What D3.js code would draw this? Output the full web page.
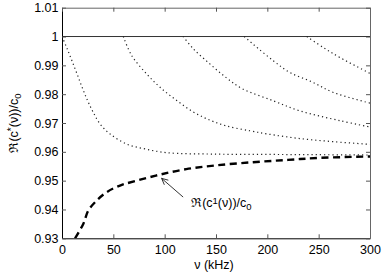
<!DOCTYPE html>
<html>
<head>
<meta charset="utf-8">
<script src="https://cdn.jsdelivr.net/npm/d3@7"></script>
<style>
  html, body { margin: 0; padding: 0; background: #fff; }
  svg { display: block; font-family: "Liberation Sans", Arial, sans-serif; }
</style>
</head>
<body>
<svg id="chart" width="382" height="273"></svg>
<script>
// values: [frequency kHz, Re(c)/c0]
const mode1 = [[0, 1], [5, 0.9958], [10, 0.9913], [15, 0.9867], [20, 0.982], [25, 0.9777],
  [30, 0.974], [37, 0.9697], [46.8, 0.9662], [63, 0.9627], [80.8, 0.961], [102, 0.9597],
  [150, 0.9592], [200, 0.9591], [250, 0.959], [300, 0.9589]];
const mode2 = [[59.7, 1], [67.9, 0.9934], [82.5, 0.987], [95.5, 0.9824], [111.7, 0.9778],
  [128, 0.9738], [144, 0.971], [160, 0.969], [183, 0.9673], [200, 0.9662], [231.8, 0.9646],
  [265, 0.9635], [300, 0.9626]];
const mode3 = [[118, 1], [128, 0.9957], [144, 0.9905], [160.4, 0.9856], [175, 0.982],
  [205.8, 0.9777], [231.8, 0.9742], [270.8, 0.9708], [300, 0.9686]];
const mode4 = [[177.5, 1], [186.3, 0.9973], [205.8, 0.9916], [222, 0.9875], [243.2, 0.9843],
  [264.3, 0.9806], [300, 0.9769]];
const mode5 = [[238.5, 1], [254.5, 0.9962], [270.8, 0.9927], [300, 0.9872]];
const modes = [mode1, mode2, mode3, mode4, mode5];

const firstMode = [[12.7, 0.93], [20.7, 0.935], [25.6, 0.9396], [33.8, 0.9431], [43.5, 0.946],
  [56.5, 0.9483], [72.8, 0.95], [95.5, 0.9521], [121, 0.954], [150, 0.9553], [186, 0.9564],
  [220, 0.9572], [251, 0.9579], [300, 0.9584]];

const xTicks = [0, 50, 100, 150, 200, 250, 300];
const yTicks = [0.93, 0.94, 0.95, 0.96, 0.97, 0.98, 0.99, 1, 1.01];
const yTickLabels = ["0.93", "0.94", "0.95", "0.96", "0.97", "0.98", "0.99", "1", "1.01"];

const svg = d3.select("#chart");
const pLeft = 62, pRight = 370, pTop = 7.7, pBottom = 238.3;

const x = d3.scaleLinear().domain([0, 300]).range([pLeft, pRight]);
const y = d3.scaleLinear().domain([0.93, 1.01]).range([pBottom, pTop]);

svg.append("defs").append("clipPath").attr("id", "plot")
  .append("rect").attr("x", pLeft).attr("y", pTop)
  .attr("width", pRight - pLeft).attr("height", pBottom - pTop);

// axes with ticks pointing inward
const fs = "12.5px";
const gx = svg.append("g").attr("transform", `translate(0,${pBottom})`)
  .call(d3.axisBottom(x).tickValues(xTicks).tickSizeInner(-4).tickSizeOuter(0).tickPadding(6.5));
const gy = svg.append("g").attr("transform", `translate(${pLeft},0)`)
  .call(d3.axisLeft(y).tickValues(yTicks).tickFormat((d, i) => yTickLabels[i])
    .tickSizeInner(-4).tickSizeOuter(0).tickPadding(3.5));
const gt = svg.append("g").attr("transform", `translate(0,${pTop})`)
  .call(d3.axisTop(x).tickValues(xTicks).tickFormat("").tickSizeInner(-4).tickSizeOuter(0));
const gr = svg.append("g").attr("transform", `translate(${pRight},0)`)
  .call(d3.axisRight(y).tickValues(yTicks).tickFormat("").tickSizeInner(-4).tickSizeOuter(0));

[gx, gy].forEach(g => {
  g.selectAll("text").attr("fill", "#000").style("font-size", fs);
  g.select(".domain").attr("stroke", "#000");
});
[gt, gr].forEach(g => g.select(".domain").attr("stroke", "#666"));
svg.selectAll(".tick line").attr("stroke", "#555");

// reference line at 1
svg.append("line")
  .attr("x1", pLeft).attr("x2", pRight)
  .attr("y1", y(1)).attr("y2", y(1))
  .attr("stroke", "#333").attr("stroke-width", 1);

const line = d3.line().x(d => x(d[0])).y(d => y(d[1])).curve(d3.curveCatmullRom.alpha(0.5));

const plot = svg.append("g").attr("clip-path", "url(#plot)");

plot.selectAll(".mode")
  .data(modes)
  .enter()
  .append("path")
  .attr("class", "mode")
  .attr("fill", "none")
  .attr("stroke", "#222")
  .attr("stroke-width", 1.2)
  .attr("stroke-dasharray", "1.2,3")
  .attr("d", line);

plot.append("path")
  .datum(firstMode)
  .attr("fill", "none")
  .attr("stroke", "#000")
  .attr("stroke-width", 2.4)
  .attr("stroke-dasharray", "7,4.5")
  .attr("d", line);

// annotation
const tip = [97, 0.9508], tail = [118, 0.9443];
const ax1 = x(tip[0]), ay1 = y(tip[1]), ax2 = x(tail[0]), ay2 = y(tail[1]);
svg.append("line")
  .attr("x1", ax1).attr("y1", ay1).attr("x2", ax2).attr("y2", ay2)
  .attr("stroke", "#000").attr("stroke-width", 0.8);
const ang = Math.atan2(ay2 - ay1, ax2 - ax1);
[0.45, -0.45].forEach(a => {
  svg.append("line")
    .attr("x1", ax1).attr("y1", ay1)
    .attr("x2", ax1 + 7 * Math.cos(ang + a)).attr("y2", ay1 + 7 * Math.sin(ang + a))
    .attr("stroke", "#000").attr("stroke-width", 0.8);
});

const lab = svg.append("text")
  .attr("x", ax2 + 8).attr("y", ay2 + 10)
  .style("font-size", fs).attr("fill", "#000");
lab.append("tspan").text("ℜ(c");
lab.append("tspan").attr("baseline-shift", "35%").style("font-size", "9.5px").text("1");
lab.append("tspan").text("(ν))/c");
lab.append("tspan").attr("baseline-shift", "-25%").style("font-size", "9.5px").text("0");

// axis titles
svg.append("text")
  .attr("x", 214).attr("y", 269)
  .attr("text-anchor", "middle")
  .style("font-size", fs).attr("fill", "#000")
  .text("ν (kHz)");

const yl = svg.append("text")
  .attr("transform", `translate(18,${(pTop + pBottom) / 2}) rotate(-90)`)
  .attr("text-anchor", "middle")
  .style("font-size", fs).attr("fill", "#000");
yl.append("tspan").text("ℜ(c");
yl.append("tspan").attr("baseline-shift", "35%").style("font-size", "10px").text("*");
yl.append("tspan").text("(ν))/c");
yl.append("tspan").attr("baseline-shift", "-25%").style("font-size", "9.5px").text("0");
</script>
</body>
</html>
